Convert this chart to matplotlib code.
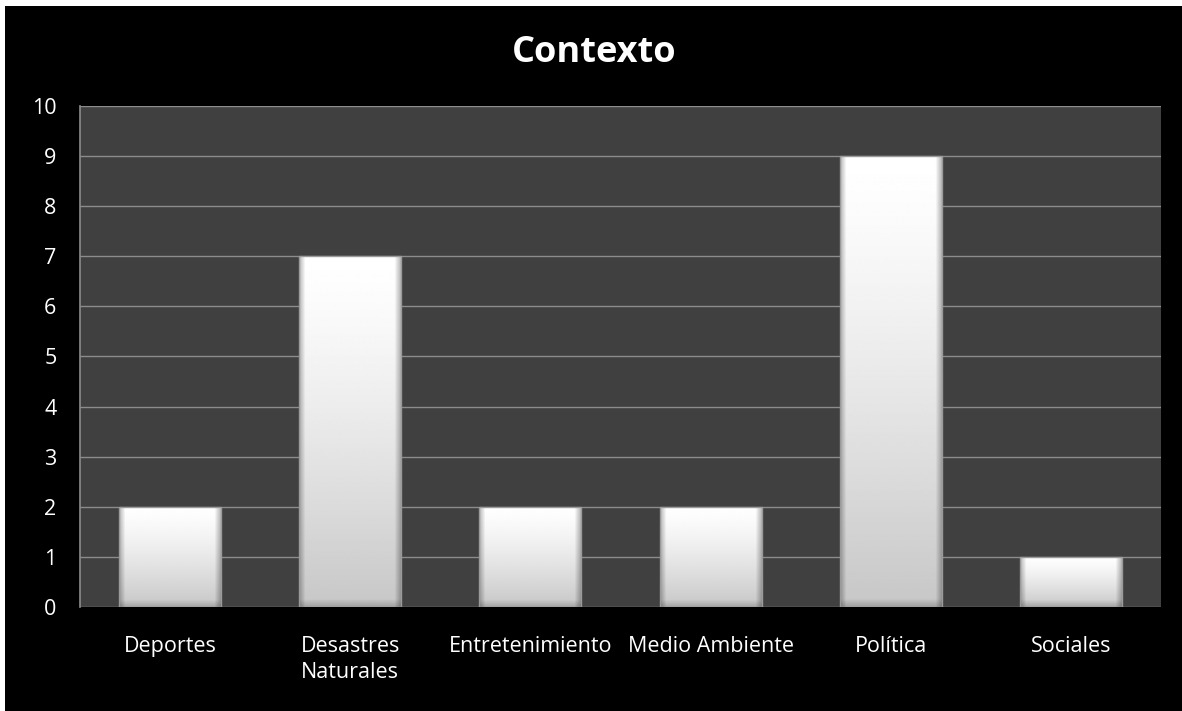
import numpy as np
import matplotlib
matplotlib.use("Agg")
import matplotlib.pyplot as plt
from matplotlib.patches import Rectangle

categories = ["Deportes", "Desastres\nNaturales", "Entretenimiento", "Medio Ambiente", "Política", "Sociales"]
values = [2, 7, 2, 2, 9, 1]
yticks = list(range(0, 11))

plt.rcParams['font.family'] = ['Open Sans', 'DejaVu Sans']

W, H = 1182, 711
fig = plt.figure(figsize=(W / 100, H / 100), dpi=100, facecolor="black")
# thin white margin at top and left of the black chart frame
fig.patches.append(Rectangle((0, 0), 5 / W, 1, transform=fig.transFigure,
                             facecolor="white", edgecolor="none", zorder=-10))
fig.patches.append(Rectangle((0, 1 - 6 / H), 1, 6 / H, transform=fig.transFigure,
                             facecolor="white", edgecolor="none", zorder=-10))

ax = fig.add_axes([80 / W, (H - 607) / H, (1161 - 80) / W, (607 - 106) / H])
ax.set_facecolor("#404040")
ax.set_xlim(-0.5, len(categories) - 0.5)
ax.set_ylim(0, 10)
ax.set_yticks(yticks)
ax.yaxis.grid(True, color="#8c8c8c", linewidth=1)
ax.set_axisbelow(True)
for s in ["top", "right", "bottom"]:
    ax.spines[s].set_visible(False)
ax.spines["left"].set_color("#8c8c8c")
ax.spines["left"].set_linewidth(1.2)
ax.tick_params(axis="both", length=0, colors="white", labelsize=15.5)
ax.tick_params(axis="y", pad=17)
ax.tick_params(axis="x", pad=21)
ax.set_xticks(range(len(categories)))
ax.set_xticklabels(categories, linespacing=1.3)
for lab in ax.get_xticklabels():
    lab.set_verticalalignment("top")

width = 0.566
bars = ax.bar(range(len(categories)), values, width=width, color="none", edgecolor="none", zorder=2)

# shaded fill for each bar: light top fading to grey, darker bevelled edges
for bar in bars:
    x0 = bar.get_x()
    h = bar.get_height()
    nx, ny = 120, 200
    u = np.linspace(0, 1, nx)[None, :]
    v = np.linspace(0, 1, ny)[:, None]  # 0 at top, 1 at bottom
    base = 1.0 - 0.22 * v ** 1.3
    edge_px = 6 / 102
    side = np.clip(np.minimum(u, 1 - u) / edge_px, 0, 1)
    img = base * (0.72 + 0.28 * side)
    bh = min(7 / (50 * h), 0.5)
    bottom = np.clip((1 - v) / bh, 0, 1)
    img = img * (0.82 + 0.18 * bottom)
    im = ax.imshow(img, cmap="gray", vmin=0, vmax=1, aspect="auto",
                   extent=(x0, x0 + width, 0, h), zorder=2, interpolation="bilinear")
    im.set_clip_path(bar)
    ax.add_patch(Rectangle((x0, 0), width, h, facecolor="none", edgecolor="#9a9a9a",
                           linewidth=1.0, zorder=3))

fig.text(594 / W, 1 - 53 / H, "Contexto", color="white", fontsize=26,
         fontweight="bold", ha="center", va="center")

fig.savefig("out.png", dpi=100, facecolor=fig.get_facecolor())
